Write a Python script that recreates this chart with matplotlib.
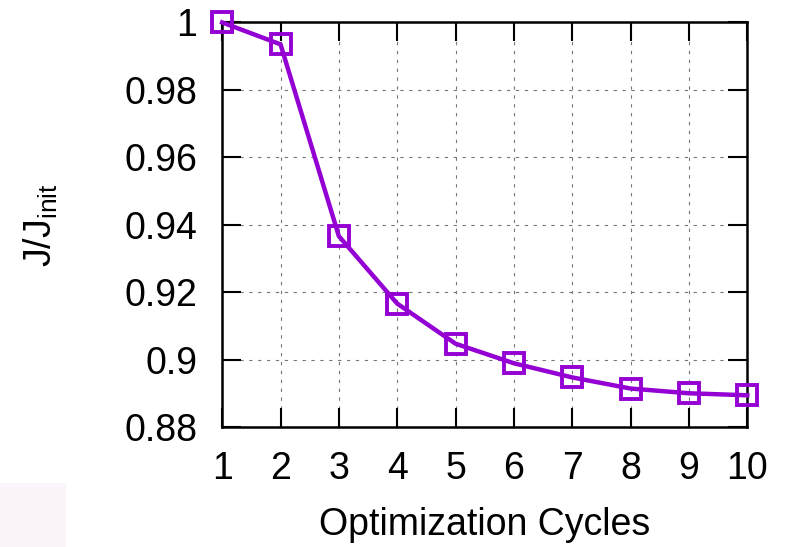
# Curva de convergencia J/J_init frente a ciclos de optimización
import matplotlib
matplotlib.use("Agg")
import matplotlib.pyplot as plt
from matplotlib.patches import Rectangle

plt.rcParams['font.family'] = ['Liberation Sans', 'DejaVu Sans']
plt.rcParams['mathtext.fontset'] = 'custom'
plt.rcParams['mathtext.rm'] = 'Liberation Sans'

# Datos
cycles = [1, 2, 3, 4, 5, 6, 7, 8, 9, 10]
j_ratio = [1.0, 0.9935, 0.9366, 0.9166, 0.9047, 0.8989, 0.8947, 0.8914, 0.8900, 0.8894]
y_ticks = [0.88, 0.90, 0.92, 0.94, 0.96, 0.98, 1.0]
y_labels = ['0.88', '0.9', '0.92', '0.94', '0.96', '0.98', '1']

fig = plt.figure(figsize=(7.85, 5.47), dpi=100)
ax = fig.add_axes([0.283, 0.2194, 0.669, 0.7396])

# recuadro rosado tenue abajo a la izquierda
fig.patches.append(Rectangle((0, 0), 66 / 785, 64 / 547, transform=fig.transFigure,
                             facecolor='#fbf5fb', edgecolor='none', zorder=0))

ax.plot(cycles, j_ratio, color='#9400d3', linewidth=3.2, marker='s', markersize=15,
        markerfacecolor='none', markeredgewidth=2.8, clip_on=False, zorder=5)

ax.set_xlim(1, 10)
ax.set_ylim(0.88, 1.0)
ax.set_xticks(cycles)
ax.set_yticks(y_ticks)
ax.set_yticklabels(y_labels)

ax.grid(True, color='#777777', linestyle=(0, (3, 5)), linewidth=0.8)
ax.tick_params(direction='in', length=14, width=1.5, labelsize=27,
               top=True, right=True)
ax.tick_params(axis='x', pad=17)
ax.tick_params(axis='y', pad=18)
for s in ax.spines.values():
    s.set_linewidth(1.8)

ax.set_xlabel('Optimization Cycles', fontsize=27, labelpad=15)
ax.set_ylabel(r'J/J$_{\mathregular{init}}$', fontsize=27, labelpad=46)

plt.savefig('out.png', dpi=100)
